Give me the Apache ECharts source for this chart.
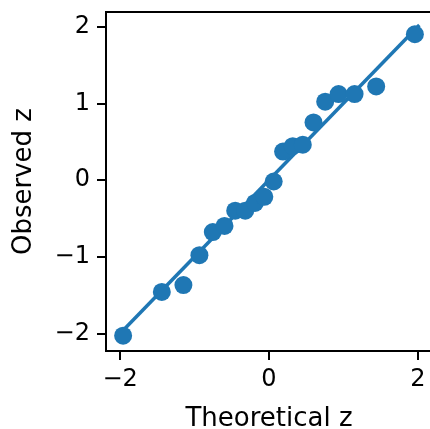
<!doctype html>
<html lang="en">
  <head>
    <meta charset="utf-8">
    <title>Q-Q plot</title>
    <script src="https://cdn.jsdelivr.net/npm/echarts@6.0.0/dist/echarts.min.js"></script>
    <style>
      html, body { margin: 0; padding: 0; background: #fff; }
      #chart { width: 430px; height: 429px; }
    </style>
  </head>
  <body>
    <div id="chart"></div>

  <script>
    // theoretical quantiles (n = 20) and observed z
    var theoretical = [-1.960, -1.440, -1.150, -0.935, -0.755, -0.598, -0.454, -0.319, -0.189, -0.063,
                       0.063, 0.189, 0.319, 0.454, 0.598, 0.755, 0.935, 1.150, 1.440, 1.960];
    var observed = [-2.03, -1.46, -1.37, -0.98, -0.68, -0.60, -0.40, -0.40, -0.30, -0.22,
                    -0.02, 0.37, 0.44, 0.46, 0.75, 1.02, 1.12, 1.12, 1.22, 1.90];

    // reference line y = x
    var lineX = [-2.03, 2.02];
    var lineY = [-2.03, 2.02];

    var xTicks = [-2, 0, 2];
    var yTicks = [-2, -1, 0, 1, 2];

    var blue = '#1f77b4';
    var font = 'DejaVu Sans';

    var points = theoretical.map(function (x, i) { return [x, observed[i]]; });
    var linePts = lineX.map(function (x, i) { return [x, lineY[i]]; });

    function minus(v) { return String(v).replace('-', '\u2212'); }

    var chart = echarts.init(document.getElementById('chart'), null, { renderer: 'canvas' });

    var option = {
      animation: false,
      backgroundColor: '#fff',
      grid: {
        left: 106, top: 12, width: 326, height: 339,
        outerBoundsMode: 'none',
        show: true, borderColor: '#000', borderWidth: 2, backgroundColor: 'transparent'
      },
      xAxis: {
        type: 'value', min: -2.19, max: 2.19,
        name: 'Theoretical z', nameLocation: 'middle', nameGap: 55,
        nameTextStyle: { fontFamily: font, fontSize: 26, color: '#000' },
        axisLine: { onZero: false, lineStyle: { color: '#000', width: 2 } },
        axisTick: { show: true, length: 9, lineStyle: { color: '#000', width: 2 }, customValues: xTicks },
        axisLabel: { fontFamily: font, fontSize: 24, color: '#000', margin: 17, customValues: xTicks, formatter: minus },
        splitLine: { show: false }
      },
      yAxis: {
        type: 'value', min: -2.23, max: 2.19,
        name: 'Observed z', nameLocation: 'middle', nameGap: 69, nameRotate: 90,
        nameTextStyle: { fontFamily: font, fontSize: 26, color: '#000' },
        axisLine: { onZero: false, lineStyle: { color: '#000', width: 2 } },
        axisTick: { show: true, length: 9, lineStyle: { color: '#000', width: 2 }, customValues: yTicks },
        axisLabel: { fontFamily: font, fontSize: 24, color: '#000', margin: 16, customValues: yTicks, formatter: minus },
        splitLine: { show: false }
      },
      series: [
        {
          type: 'line',
          data: linePts,
          symbol: 'none',
          lineStyle: { color: blue, width: 3.5 },
          z: 1
        },
        {
          type: 'scatter',
          data: points,
          symbolSize: 18,
          itemStyle: { color: blue, opacity: 1 },
          z: 2
        }
      ]
    };

    chart.setOption(option);
  </script>
  </body>
</html>
